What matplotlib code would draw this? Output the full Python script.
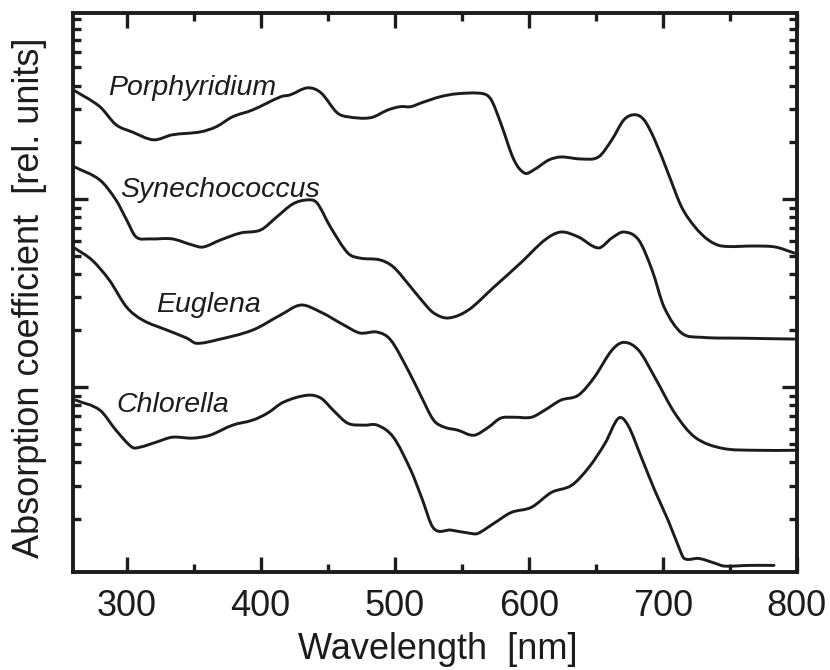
import matplotlib
matplotlib.use("Agg")
import matplotlib.pyplot as plt
import numpy as np
from matplotlib.path import Path
from matplotlib.patches import PathPatch
from matplotlib.ticker import NullFormatter, LogLocator

plt.rcParams['font.family'] = ['Liberation Sans', 'DejaVu Sans']

# absorption spectra (wavelength in nm, relative units on log scale)
porph_wl = [260, 280, 292, 304, 320, 334, 355, 367, 379, 394, 415, 422, 435, 445, 457, 465,
            482, 495, 504, 512, 520, 534, 547, 566, 572, 579, 589, 597, 604, 615, 624, 639,
            652, 662, 671, 679, 686, 694, 704, 714, 724, 734, 744, 769, 784, 798]
porph_abs = [38.0, 30.9, 24.8, 22.7, 20.6, 21.9, 22.7, 24.2, 27.3, 29.7, 34.9, 35.7, 38.9, 36.6, 28.7, 27.3,
             27.0, 29.7, 30.9, 30.9, 32.4, 34.9, 36.2, 36.2, 33.6, 25.4, 16.1, 13.7, 14.3, 16.1, 16.7, 16.3,
             16.7, 20.6, 26.3, 28.0, 26.3, 20.6, 13.7, 9.07, 7.10, 6.05, 5.62, 5.62, 5.55, 5.16]

synec_wl = [261, 280, 292, 300, 307, 317, 334, 349, 357, 370, 385, 400, 412, 424, 435, 442,
            452, 465, 474, 489, 499, 512, 520, 529, 540, 555, 574, 594, 612, 624, 637, 652,
            662, 671, 682, 692, 701, 714, 729, 759, 800]
synec_abs = [14.8, 12.6, 9.88, 7.73, 6.28, 6.13, 6.13, 5.69, 5.55, 6.05, 6.59, 6.84, 8.02, 9.40, 9.88, 9.52,
             7.10, 5.16, 4.85, 4.74, 4.35, 3.40, 2.90, 2.48, 2.33, 2.57, 3.40, 4.57, 6.05, 6.67, 6.28, 5.49,
             6.20, 6.67, 6.05, 4.19, 2.66, 1.94, 1.84, 1.82, 1.80]

eugl_wl = [261, 274, 287, 300, 312, 330, 345, 352, 367, 394, 415, 430, 445, 462, 474, 487,
           497, 510, 520, 529, 537, 547, 559, 570, 579, 589, 602, 612, 624, 637, 649, 662,
           671, 682, 694, 709, 724, 744, 769, 800]
eugl_abs = [5.49, 4.74, 3.71, 2.66, 2.27, 2.01, 1.82, 1.71, 1.78, 2.01, 2.42, 2.73, 2.50, 2.14, 1.94, 1.96,
            1.78, 1.23, 0.885, 0.668, 0.613, 0.591, 0.555, 0.613, 0.684, 0.692, 0.692, 0.755, 0.853, 0.906, 1.13, 1.57,
            1.73, 1.57, 1.13, 0.727, 0.542, 0.474, 0.462, 0.462]

chlor_wl = [262, 280, 292, 304, 310, 322, 334, 349, 362, 379, 394, 405, 417, 435, 445, 454,
            465, 477, 487, 499, 512, 520, 529, 542, 557, 562, 574, 587, 602, 617, 632, 645,
            657, 667, 674, 684, 694, 704, 712, 716, 727, 739, 746, 764, 783]
chlor_abs = [0.853, 0.755, 0.591, 0.480, 0.480, 0.510, 0.542, 0.536, 0.555, 0.628, 0.668, 0.727, 0.832, 0.906, 0.874, 0.755,
             0.643, 0.628, 0.628, 0.542, 0.362, 0.260, 0.178, 0.174, 0.167, 0.167, 0.189, 0.216, 0.230, 0.276, 0.301, 0.376,
             0.504, 0.684, 0.628, 0.424, 0.283, 0.196, 0.141, 0.123, 0.123, 0.116, 0.112, 0.113, 0.113]

names = ['Porphyridium', 'Synechococcus', 'Euglena', 'Chlorella']
label_x = [286, 295, 322, 292]
label_y = [38.9, 11.2, 2.73, 0.80]

ink = '#1c1c1c'


# smooth pen stroke through the read points: cubic hermite in (wl, log a),
# handed to matplotlib as bezier segments
def smooth_path(wl, a):
    x = np.asarray(wl, float)
    ly = np.log10(a)
    n = len(x)
    m = np.zeros(n)
    m[0] = (ly[1] - ly[0]) / (x[1] - x[0])
    m[-1] = (ly[-1] - ly[-2]) / (x[-1] - x[-2])
    m[1:-1] = (ly[2:] - ly[:-2]) / (x[2:] - x[:-2])
    verts = [(x[0], ly[0])]
    codes = [Path.MOVETO]
    for i in range(n - 1):
        h = x[i + 1] - x[i]
        verts += [(x[i] + h / 3, ly[i] + m[i] * h / 3),
                  (x[i + 1] - h / 3, ly[i + 1] - m[i + 1] * h / 3),
                  (x[i + 1], ly[i + 1])]
        codes += [Path.CURVE4] * 3
    verts = np.array(verts)
    verts[:, 1] = 10 ** verts[:, 1]
    return Path(verts, codes)


fig = plt.figure(figsize=(8.3, 6.7), dpi=100)
ax = fig.add_axes([0.088, 0.146, 0.872, 0.835])

for wl, a in [(porph_wl, porph_abs), (synec_wl, synec_abs), (eugl_wl, eugl_abs), (chlor_wl, chlor_abs)]:
    ax.add_patch(PathPatch(smooth_path(wl, a), facecolor='none', edgecolor=ink, lw=2.1,
                           capstyle='round', joinstyle='round'))

for name, tx, ty in zip(names, label_x, label_y):
    ax.text(tx, ty, name, style='italic', fontsize=20.5, color=ink, ha='left', va='center')

ax.set_yscale('log')
ax.set_xlim(260, 800)
ax.set_ylim(0.104, 97.5)
ax.set_xticks([300, 400, 500, 600, 700, 800])
ax.set_xticks([350, 450, 550, 650, 750], minor=True)
ax.yaxis.set_major_locator(LogLocator(base=10))
ax.yaxis.set_minor_locator(LogLocator(base=10, subs=range(2, 10)))
ax.yaxis.set_major_formatter(NullFormatter())
ax.yaxis.set_minor_formatter(NullFormatter())

ax.tick_params(which='both', direction='in', top=True, right=True, colors=ink, width=2.4)
ax.tick_params(which='major', length=11)
ax.tick_params(which='minor', length=6)
ax.tick_params(axis='x', which='major', labelsize=26, pad=12)
for s in ax.spines.values():
    s.set_linewidth(2.8)
    s.set_color(ink)

fig.text(0.527, 0.030, 'Wavelength  [nm]', fontsize=26, color=ink, ha='center', va='center')
fig.text(0.035, 0.555, 'Absorption coefficient  [rel. units]', fontsize=26, color=ink,
         rotation=90, ha='center', va='center')

fig.savefig('out.png', dpi=100)
